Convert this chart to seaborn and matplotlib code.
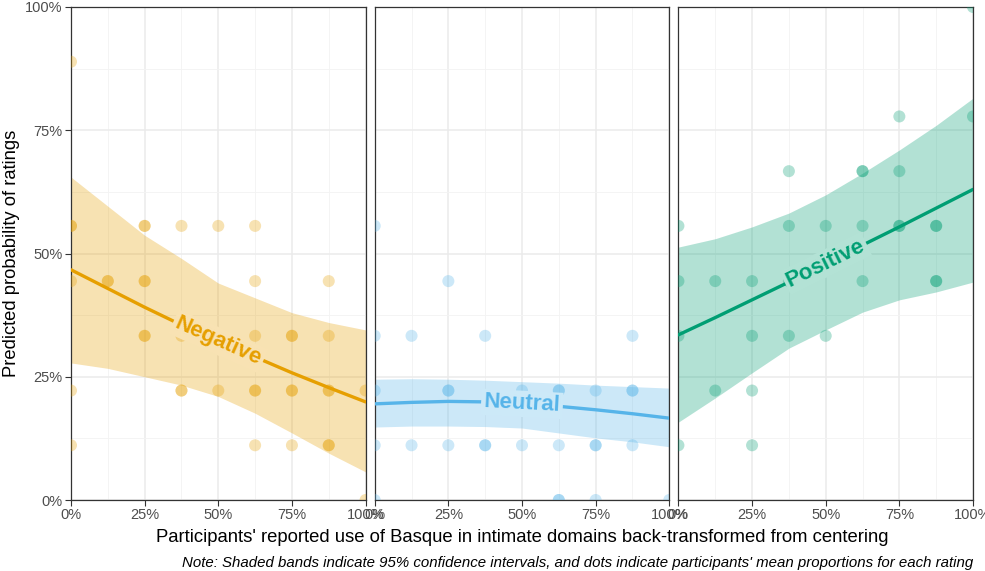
import matplotlib
matplotlib.use('Agg')
import matplotlib.pyplot as plt
import matplotlib.ticker as mticker
import matplotlib.colors as mcolors
import numpy as np
import pandas as pd
import seaborn as sns

# Categorias e cores
ratings = ['Negative', 'Neutral', 'Positive']
cores = {'Negative': '#E69F00', 'Neutral': '#56B4E9', 'Positive': '#009E73'}

# Uso do basco (%)
uso = [0, 12.5, 25, 37.5, 50, 62.5, 75, 87.5, 100]

# Curvas previstas e intervalos de 95% (%)
neg_fit = [46.7, 42.9, 39.1, 35.5, 32.2, 29.0, 25.8, 22.8, 19.9]
neg_lo = [27.8, 26.7, 25.0, 23.3, 21.0, 17.6, 13.6, 9.5, 5.7]
neg_hi = [65.5, 59.6, 53.7, 49.0, 44.0, 41.0, 38.0, 36.0, 34.5]

neu_fit = [19.5, 19.8, 20.0, 19.9, 19.5, 19.0, 18.3, 17.5, 16.6]
neu_lo = [14.8, 15.0, 15.0, 14.9, 14.6, 13.6, 12.6, 11.8, 10.8]
neu_hi = [24.5, 24.6, 24.5, 24.3, 24.0, 23.7, 23.3, 23.0, 22.7]

pos_fit = [33.5, 37.0, 40.6, 44.2, 48.0, 51.7, 55.4, 59.2, 63.0]
pos_lo = [15.8, 20.7, 25.8, 30.8, 34.5, 38.1, 40.6, 42.2, 44.2]
pos_hi = [51.3, 53.0, 55.4, 58.2, 61.9, 66.3, 71.0, 76.0, 81.5]

# Médias dos participantes (uso %, proporção %)
neg_x = [0, 0, 0, 25, 25, 37.5, 50, 62.5,
         0, 12.5, 12.5, 25, 25, 62.5, 87.5,
         25, 25, 37.5, 62.5, 75, 75, 87.5,
         0, 37.5, 37.5, 50, 62.5, 62.5, 75, 75, 87.5, 87.5, 100,
         0, 62.5, 75, 87.5, 87.5,
         100]
neg_y = [88.9, 55.6, 55.6, 55.6, 55.6, 55.6, 55.6, 55.6,
         44.4, 44.4, 44.4, 44.4, 44.4, 44.4, 44.4,
         33.3, 33.3, 33.3, 33.3, 33.3, 33.3, 33.3,
         22.2, 22.2, 22.2, 22.2, 22.2, 22.2, 22.2, 22.2, 22.2, 22.2, 22.2,
         11.1, 11.1, 11.1, 11.1, 11.1,
         0]

neu_x = [0,
         25,
         0, 12.5, 37.5, 87.5,
         0, 25, 25, 50, 62.5, 62.5, 75, 87.5, 87.5,
         0, 12.5, 25, 37.5, 37.5, 50, 62.5, 75, 75, 87.5,
         0, 62.5, 62.5, 75, 100]
neu_y = [55.6,
         44.4,
         33.3, 33.3, 33.3, 33.3,
         22.2, 22.2, 22.2, 22.2, 22.2, 22.2, 22.2, 22.2, 22.2,
         11.1, 11.1, 11.1, 11.1, 11.1, 11.1, 11.1, 11.1, 11.1, 11.1,
         0, 0, 0, 0, 0]

pos_x = [100,
         75, 100,
         37.5, 62.5, 62.5, 75,
         0, 37.5, 50, 62.5, 75, 75, 87.5, 87.5,
         0, 12.5, 25, 37.5, 62.5, 87.5, 87.5,
         0, 25, 37.5, 50,
         12.5, 25,
         0, 25]
pos_y = [100,
         77.8, 77.8,
         66.7, 66.7, 66.7, 66.7,
         55.6, 55.6, 55.6, 55.6, 55.6, 55.6, 55.6, 55.6,
         44.4, 44.4, 44.4, 44.4, 44.4, 44.4, 44.4,
         33.3, 33.3, 33.3, 33.3,
         22.2, 22.2,
         11.1, 11.1]

curvas = pd.DataFrame({
    'rating': np.repeat(ratings, len(uso)),
    'uso': uso * 3,
    'fit': neg_fit + neu_fit + pos_fit,
    'lo': neg_lo + neu_lo + pos_lo,
    'hi': neg_hi + neu_hi + pos_hi,
})
pontos = pd.DataFrame({
    'rating': ['Negative'] * len(neg_x) + ['Neutral'] * len(neu_x) + ['Positive'] * len(pos_x),
    'uso': neg_x + neu_x + pos_x,
    'prob': neg_y + neu_y + pos_y,
})

sns.set_style('white')
plt.rcParams['font.family'] = ['Liberation Sans', 'DejaVu Sans']

g = sns.FacetGrid(curvas, col='rating', col_order=ratings, despine=False,
                  sharex=True, sharey=True)
g.figure.set_size_inches(9.85, 5.71)
g.figure.set_dpi(100)

ALFA = 0.3
for ax, r in zip(g.axes.flat, ratings):
    cor = cores[r]
    c = curvas[curvas['rating'] == r]
    p = pontos[pontos['rating'] == r]
    ax.fill_between(c['uso'], c['lo'], c['hi'], color=cor, alpha=ALFA, lw=0, zorder=2)
    sns.scatterplot(data=p, x='uso', y='prob', color=cor, alpha=0.3, s=75,
                    edgecolor='none', ax=ax, zorder=3)
    sns.lineplot(data=c, x='uso', y='fit', color=cor, lw=2.4, ax=ax, zorder=4)

    # rótulo sobre a curva
    rgb = np.array(mcolors.to_rgb(cor))
    fundo = 1 - ALFA * (1 - rgb)
    y50 = c.loc[c['uso'] == 50, 'fit'].iloc[0]
    ang = {'Negative': -24, 'Neutral': -3, 'Positive': 26}[r]
    ax.text(50, y50, r, rotation=ang, rotation_mode='anchor', ha='center', va='center',
            color=cor, fontsize=16, fontweight='bold', zorder=5,
            bbox=dict(boxstyle='square,pad=0.12', fc=fundo, ec='none'))

    ax.set_xlim(0, 100)
    ax.set_ylim(0, 100)
    ax.xaxis.set_major_locator(mticker.MultipleLocator(25))
    ax.yaxis.set_major_locator(mticker.MultipleLocator(25))
    ax.xaxis.set_minor_locator(mticker.MultipleLocator(12.5))
    ax.yaxis.set_minor_locator(mticker.MultipleLocator(12.5))
    ax.xaxis.set_major_formatter(mticker.PercentFormatter(decimals=0))
    ax.yaxis.set_major_formatter(mticker.PercentFormatter(decimals=0))
    ax.grid(True, which='major', color='#EBEBEB', lw=1.1)
    ax.grid(True, which='minor', color='#F3F3F3', lw=0.6)
    ax.set_axisbelow(True)
    ax.tick_params(which='major', direction='out', length=4, width=0.8,
                   color='#333333', labelcolor='#4D4D4D', labelsize=10.5, pad=2)
    ax.tick_params(which='minor', length=0)
    ax.tick_params(axis='both', bottom=True, left=(r == 'Negative'))
    for s in ax.spines.values():
        s.set_color('#333333')
        s.set_linewidth(0.9)
    ax.set_xlabel('')
    ax.set_ylabel('')
    ax.set_title('')

g.figure.subplots_adjust(left=71 / 985, right=973 / 985, top=1 - 7 / 571,
                         bottom=1 - 500 / 571, wspace=0.031)

g.figure.text(522 / 985, 1 - 537 / 571,
              "Participants' reported use of Basque in intimate domains back-transformed from centering",
              ha='center', va='center', fontsize=13.3, color='black')
g.figure.text(12 / 985, 1 - 253 / 571, 'Predicted probability of ratings',
              rotation=90, ha='center', va='center', fontsize=13.2, color='black')
g.figure.text(973 / 985, 1 - 563 / 571,
              "Note: Shaded bands indicate 95% confidence intervals, and dots indicate participants' mean proportions for each rating",
              ha='right', va='center', fontsize=10.8, style='italic', color='black')

g.figure.savefig('out.png', dpi=100)
